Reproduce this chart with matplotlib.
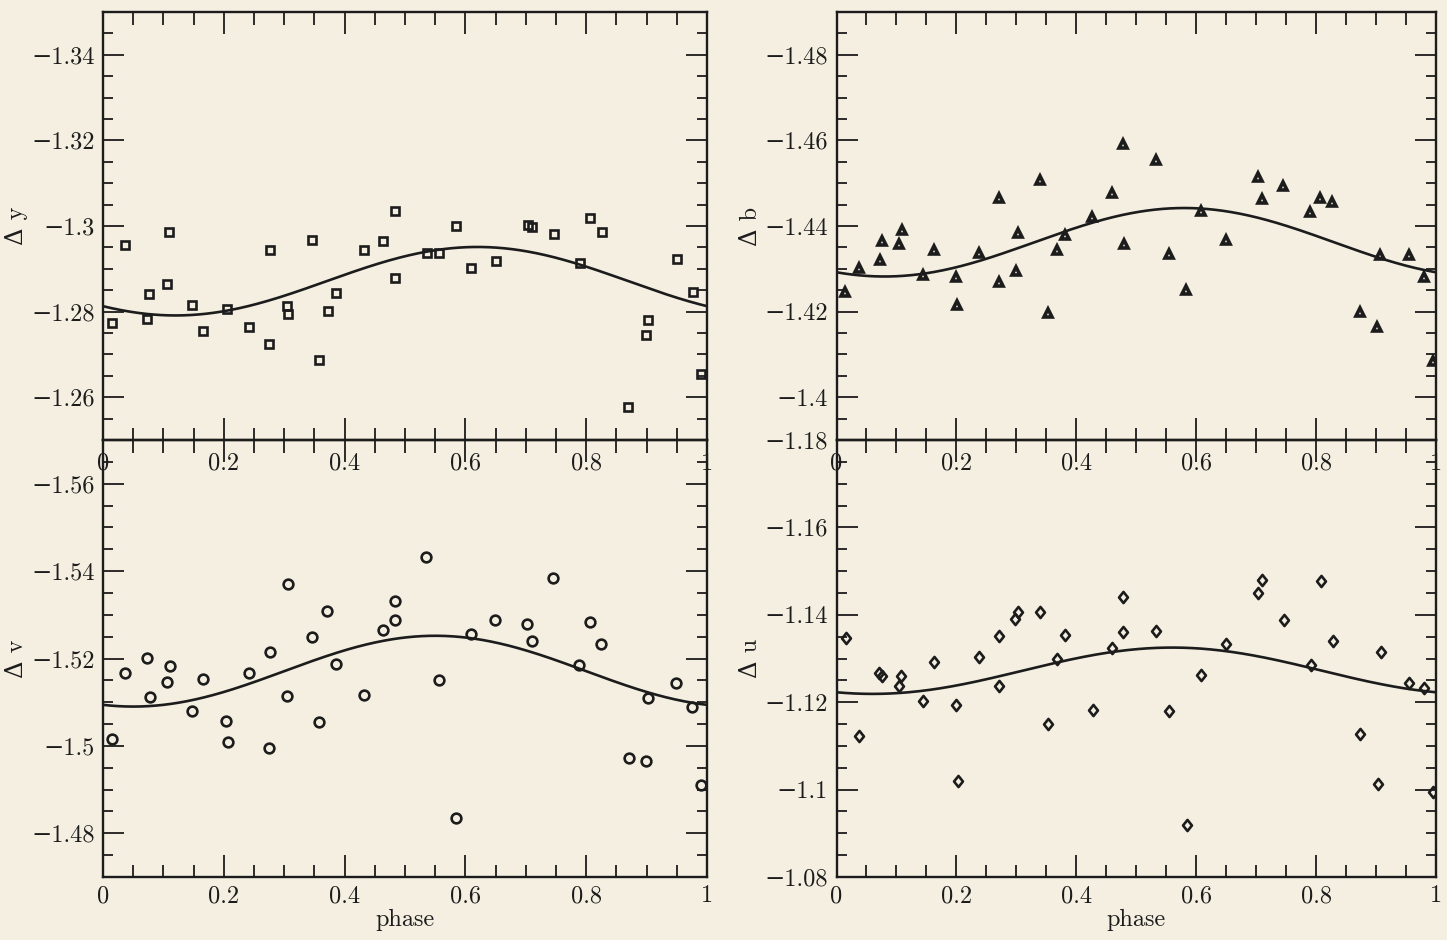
import numpy as np
import matplotlib
matplotlib.use("Agg")
import matplotlib.pyplot as plt
from matplotlib.ticker import MultipleLocator, FuncFormatter
from matplotlib.path import Path

plt.rcParams['font.family'] = ['cmr10', 'DejaVu Serif']
plt.rcParams['axes.formatter.use_mathtext'] = True

# --- data -----------------------------------------------------------------
phase_y = [0.015, 0.037, 0.073, 0.076, 0.106, 0.110, 0.147, 0.165, 0.205, 0.242,
           0.276, 0.275, 0.304, 0.307, 0.346, 0.357, 0.372, 0.385, 0.432, 0.464,
           0.483, 0.483, 0.536, 0.556, 0.584, 0.609, 0.650, 0.703, 0.711, 0.747,
           0.790, 0.807, 0.826, 0.870, 0.903, 0.899, 0.950, 0.976, 0.990]
dy = [-1.2774, -1.2955, -1.2782, -1.2842, -1.2865, -1.2985, -1.2815, -1.2755, -1.2806, -1.2764,
      -1.2943, -1.2724, -1.2814, -1.2795, -1.2968, -1.2687, -1.2801, -1.2844, -1.2944, -1.2964,
      -1.3035, -1.2878, -1.2937, -1.2936, -1.2999, -1.2901, -1.2918, -1.3002, -1.2997, -1.2981,
      -1.2914, -1.3018, -1.2985, -1.2576, -1.2780, -1.2745, -1.2923, -1.2846, -1.2654]

phase_b = [0.015, 0.0375, 0.0726, 0.0765, 0.104, 0.109, 0.144, 0.163, 0.199, 0.201,
           0.2376, 0.2716, 0.2716, 0.2994, 0.302, 0.3395, 0.353, 0.368, 0.3806, 0.4268,
           0.459, 0.4784, 0.479, 0.5324, 0.5546, 0.583, 0.6075, 0.649, 0.7026, 0.710,
           0.745, 0.789, 0.807, 0.827, 0.873, 0.902, 0.9066, 0.955, 0.980, 0.9945]
db = [-1.4246, -1.4303, -1.4320, -1.4365, -1.4359, -1.4391, -1.4286, -1.4344, -1.4280, -1.4216,
      -1.4337, -1.4466, -1.4269, -1.4296, -1.4384, -1.4508, -1.4197, -1.4343, -1.4380, -1.4422,
      -1.4478, -1.4591, -1.4357, -1.4554, -1.4335, -1.4250, -1.4435, -1.4368, -1.4514, -1.4462,
      -1.4493, -1.4432, -1.4465, -1.4456, -1.4199, -1.4164, -1.4333, -1.4333, -1.4281, -1.4085]

phase_v = [0.0154, 0.037, 0.0733, 0.0773, 0.1065, 0.1114, 0.1478, 0.1656, 0.2031, 0.2064,
           0.2417, 0.275, 0.2765, 0.304, 0.307, 0.3455, 0.358, 0.371, 0.385, 0.4316,
           0.463, 0.483, 0.483, 0.535, 0.5563, 0.584, 0.6088, 0.649, 0.7025, 0.710,
           0.7455, 0.7886, 0.806, 0.825, 0.8704, 0.8985, 0.902, 0.9487, 0.975, 0.990]
dv = [-1.5016, -1.5167, -1.5202, -1.5113, -1.5147, -1.5183, -1.5081, -1.5152, -1.5058, -1.5009,
      -1.5167, -1.4996, -1.5215, -1.5114, -1.5370, -1.5249, -1.5054, -1.5308, -1.5187, -1.5117,
      -1.5265, -1.5287, -1.5332, -1.5433, -1.5150, -1.4835, -1.5256, -1.5288, -1.5279, -1.5239,
      -1.5385, -1.5186, -1.5283, -1.5233, -1.4972, -1.4965, -1.5110, -1.5143, -1.5089, -1.4911]

phase_u = [0.0153, 0.037, 0.0709, 0.0765, 0.1037, 0.108, 0.1443, 0.162, 0.1993, 0.202,
           0.2377, 0.2716, 0.2705, 0.2977, 0.302, 0.3395, 0.3533, 0.3673, 0.3806, 0.4279,
           0.459, 0.4784, 0.4784, 0.533, 0.554, 0.584, 0.608, 0.6492, 0.703, 0.710,
           0.7465, 0.791, 0.8077, 0.8277, 0.8732, 0.9037, 0.9078, 0.9555, 0.9805, 0.9955]
du = [-1.1348, -1.1123, -1.1267, -1.1259, -1.1237, -1.1261, -1.1202, -1.1293, -1.1193, -1.1020,
      -1.1304, -1.1352, -1.1236, -1.1391, -1.1407, -1.1407, -1.1150, -1.1300, -1.1354, -1.1182,
      -1.1325, -1.1360, -1.1441, -1.1364, -1.1179, -1.0918, -1.1262, -1.1333, -1.1449, -1.1479,
      -1.1388, -1.1286, -1.1477, -1.1341, -1.1127, -1.1012, -1.1315, -1.1243, -1.1232, -1.0995]

# sinusoid fits: (mean, semi-amplitude, phase of maximum brightness)
fit_y = (-1.2871, 0.0080, 0.62)
fit_b = (-1.4362, 0.0080, 0.58)
fit_v = (-1.5171, 0.0081, 0.55)
fit_u = (-1.1272, 0.0053, 0.56)

ylims_y = (-1.25, -1.35)
ylims_b = (-1.39, -1.49)
ylims_v = (-1.47, -1.57)
ylims_u = (-1.08, -1.18)

BG = '#f4efe1'
INK = '#1c1c1c'

# slightly tall diamond, like the plotted symbols in the original
diamond = Path([(0, 1), (0.8, 0), (0, -1), (-0.8, 0), (0, 1)],
               [Path.MOVETO, Path.LINETO, Path.LINETO, Path.LINETO, Path.CLOSEPOLY])

fig = plt.figure(figsize=(14.47, 9.40), dpi=100, facecolor=BG)

W, H = 1447, 940
def box(x0, y0, x1, y1):
    return [x0 / W, 1 - y1 / H, (x1 - x0) / W, (y1 - y0) / H]

panels = [
    (box(103, 12, 707, 440), phase_y, dy, fit_y, ylims_y, 's', 5.2, 1.9, 'Δ y', False),
    (box(836.5, 12, 1436, 440), phase_b, db, fit_b, ylims_b, '^', 6.2, 2.6, 'Δ b', False),
    (box(103, 440, 707, 877), phase_v, dv, fit_v, ylims_v, 'o', 7.0, 1.9, 'Δ v', True),
    (box(836.5, 440, 1436, 877), phase_u, du, fit_u, ylims_u, diamond, 8.0, 1.9, 'Δ u', True),
]

fmt = FuncFormatter(lambda v, p: ('%g' % round(v, 4)).replace('-', '\u2212'))

for rect, ph, mag, fit, ylim, mk, ms, mw, lab, bottom in panels:
    ax = fig.add_axes(rect)
    ax.set_facecolor('none')

    grid = np.linspace(0, 1, 400)
    mean, amp, ph0 = fit
    ax.plot(grid, mean - amp * np.cos(2 * np.pi * (grid - ph0)), color=INK, lw=1.9, zorder=2)
    ax.plot(ph, mag, ls='none', marker=mk, ms=ms, mfc='none', mec=INK, mew=mw, zorder=3)

    ax.set_xlim(0, 1)
    ax.set_ylim(*ylim)
    ax.xaxis.set_major_locator(MultipleLocator(0.2))
    ax.xaxis.set_minor_locator(MultipleLocator(0.05))
    ax.yaxis.set_major_locator(MultipleLocator(0.02))
    ax.yaxis.set_minor_locator(MultipleLocator(0.005))
    ax.xaxis.set_major_formatter(fmt)
    ax.yaxis.set_major_formatter(fmt)

    ax.tick_params(which='both', direction='in', top=True, right=True,
                   colors=INK, labelsize=17.5, width=1.3)
    ax.tick_params(axis='x', which='major', length=16, pad=6 if bottom else 9)
    ax.tick_params(axis='x', which='minor', length=9)
    ax.tick_params(axis='y', which='major', length=15, pad=6)
    ax.tick_params(axis='y', which='minor', length=7.5)
    for s in ax.spines.values():
        s.set_linewidth(1.7)
        s.set_color(INK)

    ax.set_ylabel(lab, fontsize=17.5, color=INK, labelpad=2)
    if bottom:
        ax.set_xlabel('phase', fontsize=17.5, color=INK, labelpad=1)

fig.savefig('out.png', dpi=100, facecolor=BG)
